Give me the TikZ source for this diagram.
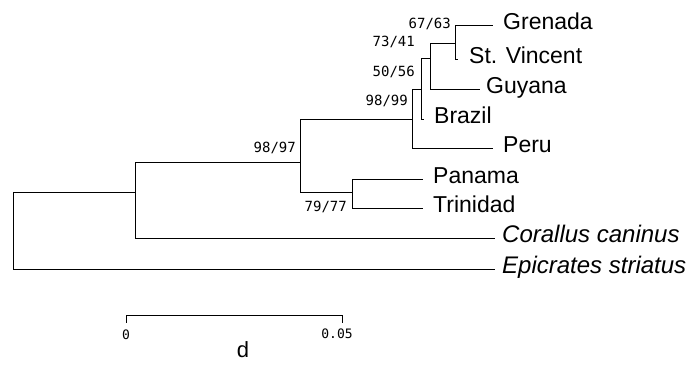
\documentclass[tikz,border=0pt]{standalone}
\usepackage{fontspec}
\setmainfont{Liberation Sans}
\newfontfamily\bootfont{DejaVu Sans Mono}
\usepackage{tikz}

\begin{document}
\begin{tikzpicture}[
  x=1pt,y=-1pt,
  branch/.style={draw=black,line width=0.9pt},
  taxon/.style={anchor=base west,inner sep=0pt,font=\fontsize{23}{26}\selectfont},
  outgroup/.style={anchor=base west,inner sep=0pt,font=\fontsize{24}{27}\selectfont\itshape},
  boot/.style={anchor=east,inner sep=0pt,font=\bootfont\fontsize{14}{16}\selectfont},
  scalelab/.style={inner sep=0pt,font=\bootfont\fontsize{13}{15}\selectfont}
]
\useasboundingbox (0,0) rectangle (694,366);

\coordinate (root) at (13,192);
\coordinate (n1) at (135,192);
\coordinate (n2) at (300,162);
\coordinate (n3) at (412,119);
\coordinate (n4) at (421,89);
\coordinate (n5) at (430,58);
\coordinate (n6) at (455,43);
\coordinate (n7) at (352,192);

\coordinate (grenada) at (493,25);
\coordinate (stvincent) at (458,59);
\coordinate (guyana) at (480,89);
\coordinate (brazil) at (424,119);
\coordinate (peru) at (493,148);
\coordinate (panama) at (423,179);
\coordinate (trinidad) at (423,208);
\coordinate (corallus) at (495,238);
\coordinate (epicrates) at (495,269);

\draw[branch] (root) |- (n1);
\draw[branch] (root) |- (epicrates);
\draw[branch] (n1) |- (n2);
\draw[branch] (n1) |- (corallus);
\draw[branch] (n2) |- (n3);
\draw[branch] (n2) |- (n7);
\draw[branch] (n7) |- (panama);
\draw[branch] (n7) |- (trinidad);
\draw[branch] (n3) |- (n4);
\draw[branch] (n3) |- (peru);
\draw[branch] (n4) |- (n5);
\draw[branch] (n4) |- (brazil);
\draw[branch] (n5) |- (n6);
\draw[branch] (n5) |- (guyana);
\draw[branch] (n6) |- (grenada);
\draw[branch] (n6) |- (stvincent);

\node[taxon] (grenadaL) at (503,30) {Grenada};
\node[taxon] (stvincentL) at (469,64) {St. Vincent};
\node[taxon] (guyanaL) at (486,94) {Guyana};
\node[taxon] (brazilL) at (434,124) {Brazil};
\node[taxon] (peruL) at (503,153) {Peru};
\node[taxon] (panamaL) at (433,184) {Panama};
\node[taxon] (trinidadL) at (433,213) {Trinidad};
\node[outgroup] (corallusL) at (502,243) {Corallus caninus};
\node[outgroup] (epicratesL) at (502,274) {Epicrates striatus};

\node[boot] (b6) at (451,24) {67/63};
\node[boot] (b5) at (415,42) {73/41};
\node[boot] (b4) at (415,72) {50/56};
\node[boot] (b3) at (408,101) {98/99};
\node[boot] (b2) at (296,148) {98/97};
\node[boot] (b7) at (347,207) {79/77};

\coordinate (s0) at (126,315);
\coordinate (s1) at (342,315);
\draw[branch] (s0) ++(0,8) -- (s0) -- (s1) -- ++(0,8);
\node[scalelab] (zero) at (126,335) {0};
\node[scalelab] (fivep) at (337,334) {0.05};
\node[anchor=base,font=\fontsize{22}{24}\selectfont,inner sep=0pt] (dlab) at (243,357) {d};
\end{tikzpicture}
\end{document}
